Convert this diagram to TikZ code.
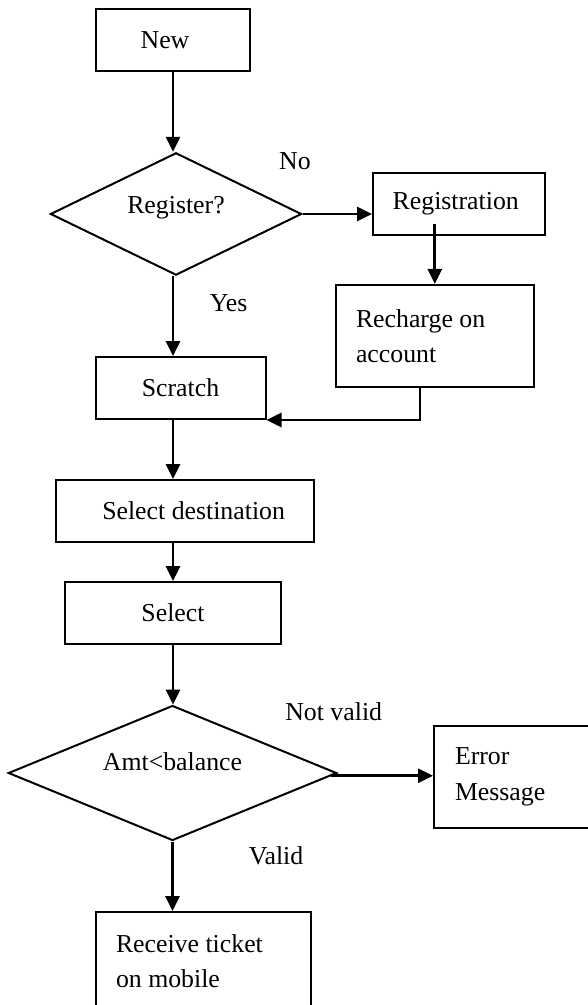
\documentclass[tikz,border=0pt]{standalone}
\usepackage{fontspec}
\setmainfont{Liberation Serif}
\usetikzlibrary{shapes.geometric,arrows.meta}
\begin{document}
\begin{tikzpicture}[x=0.5pt,y=-0.5pt,
  font=\fontsize{12.9}{17.8}\selectfont,
  box/.style={draw,line width=1pt,rectangle,inner sep=0pt,anchor=center},
  tbox/.style={draw,line width=1pt,rectangle,align=flush left,anchor=center,inner ysep=0pt},
  dec/.style={draw,line width=1pt,diamond,inner sep=0pt,anchor=center},
  arr/.style={line width=1.35pt,-{Triangle[length=7.5pt,width=7pt]}},
  lbl/.style={inner sep=0pt,anchor=center}]
\fill[white] (0,0) rectangle (588,1005);
\useasboundingbox (0,0) rectangle (588,1005);
% nodes
\node[box,minimum width=77pt,minimum height=30.7pt] (new) at (173,40) {\kern-8pt New};
\node[dec,shape aspect=2.05,minimum width=125.6pt,minimum height=61.2pt,text depth=9pt] (reg) at (176,214) {Register?};
\node[box,minimum width=85.75pt,minimum height=31pt] (regn) at (458.75,204) {\kern-3pt Registration};
\node[tbox,inner xsep=10pt,text width=78.8pt,minimum height=51.2pt] (rech) at (434.8,336.2) {Recharge on\\account};
\node[box,minimum width=85pt,minimum height=31pt] (scr) at (180.5,388) {Scratch};
\node[box,minimum width=129pt,minimum height=30.9pt] (dest) at (185,510.9) {Select destination\kern-8.6pt};
\node[box,minimum width=108pt,minimum height=31pt] (sel) at (173,613) {Select};
\node[dec,shape aspect=2.43,minimum width=164.2pt,minimum height=67.5pt,text depth=11pt] (amt) at (172.5,773) {Amt<balance};
\node[tbox,inner xsep=10.5pt,text width=57pt,minimum height=51pt] (err) at (512,777) {Error\\Message};
\node[tbox,inner xsep=10.2pt,text width=87.3pt,minimum height=49pt] (rcv) at (203.3,961) {Receive ticket\\on mobile};
% labels
\node[lbl] (lno) at (295,161) {No};
\node[lbl] (lyes) at (228.7,303) {Yes};
\node[lbl] (lnv) at (333.7,712) {Not valid};
\node[lbl] (lv) at (276,856) {Valid};
% connectors
\draw[arr] (new.south) -- (new.south |- reg.north);
\draw[arr] (reg.east) -- (reg.east -| regn.west);
\draw[arr] ([yshift=6pt]rech.north |- regn.south) -- (rech.north);
\draw[arr] (new.south |- reg.south) -- (new.south |- scr.north);
\draw[arr] ([xshift=-7.4pt]rech.south) |- (scr.south east);
\draw[arr] (new.south |- scr.south) -- (new.south |- dest.north);
\draw[arr] (new.south |- dest.south) -- (new.south |- sel.north);
\draw[arr] (sel.south) -- (sel.south |- amt.north);
\draw[arr] (amt.-1.9) -- (amt.-1.9 -| err.west);
\draw[arr] (amt.south) -- (amt.south |- rcv.north);
\end{tikzpicture}
\end{document}
